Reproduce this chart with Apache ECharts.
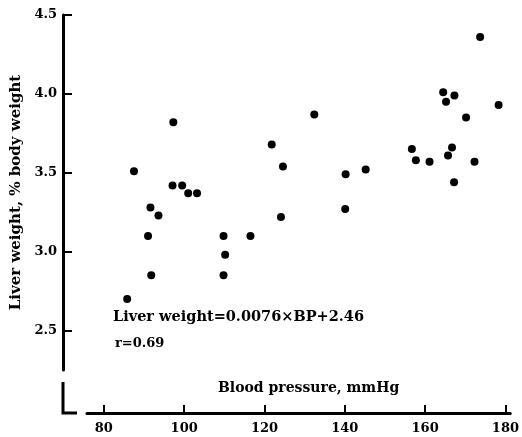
<!DOCTYPE html>
<html>
<head>
<meta charset="utf-8">
<script src="https://cdn.jsdelivr.net/npm/echarts@6/dist/echarts.min.js"></script>
<style>
html,body{margin:0;padding:0;background:#fff;}
#chart{width:522px;height:437px;}
</style>
</head>
<body>
<div id="chart"></div>
<script>
// Blood pressure (mmHg)
const bloodPressure = [85.8, 87.5, 91.0, 91.6, 91.8, 93.6, 97.3, 97.1, 99.5, 101.0, 103.2,
  109.8, 110.2, 109.8, 116.5, 121.8, 124.6, 124.1, 132.4, 140.2, 140.1, 145.2,
  156.7, 157.7, 161.1, 164.5, 167.3, 165.2, 178.3, 170.2, 166.7, 165.7, 172.3, 167.2, 173.7];
// Liver weight (% body weight)
const liverWeight = [2.70, 3.51, 3.10, 3.28, 2.85, 3.23, 3.82, 3.42, 3.42, 3.37, 3.37,
  3.10, 2.98, 2.85, 3.10, 3.68, 3.54, 3.22, 3.87, 3.49, 3.27, 3.52,
  3.65, 3.58, 3.57, 4.01, 3.99, 3.95, 3.93, 3.85, 3.66, 3.61, 3.57, 3.44, 4.36];
const yTicks = [2.5, 3.0, 3.5, 4.0, 4.5];
const xTicks = [80, 100, 120, 140, 160, 180];
const xName = 'Blood pressure, mmHg';
const yName = 'Liver weight, % body weight';
const equationText = 'Liver weight=0.0076×BP+2.46';
const rText = 'r=0.69';

const points = bloodPressure.map((x, i) => [x, liverWeight[i]]);
const serif = '"DejaVu Serif", "Liberation Serif", serif';

const chart = echarts.init(document.getElementById('chart'), null, {renderer: 'canvas'});
chart.setOption({
  backgroundColor: '#fff',
  animation: false,
  grid: {left: 87, right: 7, top: 15, bottom: 67},
  xAxis: {
    type: 'value', min: 75.8, max: 181.2, offset: 43,
    splitLine: {show: false},
    axisLine: {show: true, lineStyle: {color: '#000', width: 3}},
    axisTick: {show: true, inside: true, length: 8, lineStyle: {color: '#000', width: 2}, customValues: xTicks},
    axisLabel: {color: '#000', fontFamily: serif, fontWeight: 'bold', fontSize: 13, margin: 9, customValues: xTicks}
  },
  yAxis: {
    type: 'value', min: 2.25, max: 4.5, offset: 24,
    name: yName, nameLocation: 'middle', nameGap: 38,
    nameTextStyle: {color: '#000', fontFamily: serif, fontWeight: 'bold', fontSize: 15},
    splitLine: {show: false},
    axisLine: {show: true, lineStyle: {color: '#000', width: 3}},
    axisTick: {show: true, inside: true, length: 9, lineStyle: {color: '#000', width: 2}, customValues: yTicks},
    axisLabel: {color: '#000', fontFamily: serif, fontWeight: 'bold', fontSize: 13, margin: 6,
      customValues: yTicks, formatter: v => v.toFixed(1)}
  },
  series: [{
    type: 'scatter', data: points, symbol: 'circle', symbolSize: 8,
    itemStyle: {color: '#000', opacity: 1}
  }],
  graphic: [
    {type: 'polyline', shape: {points: [[63, 382], [63, 413], [77, 413]]},
     style: {stroke: '#000', lineWidth: 3, fill: null}},
    {type: 'text', left: 218, top: 381,
     style: {text: xName, font: 'bold 14px ' + serif, fill: '#000'}},
    {type: 'text', left: 113, top: 310,
     style: {text: equationText, font: 'bold 14.5px ' + serif, fill: '#000'}},
    {type: 'text', left: 115, top: 337,
     style: {text: rText, font: 'bold 13px ' + serif, fill: '#000'}}
  ]
});
</script>
</body>
</html>
